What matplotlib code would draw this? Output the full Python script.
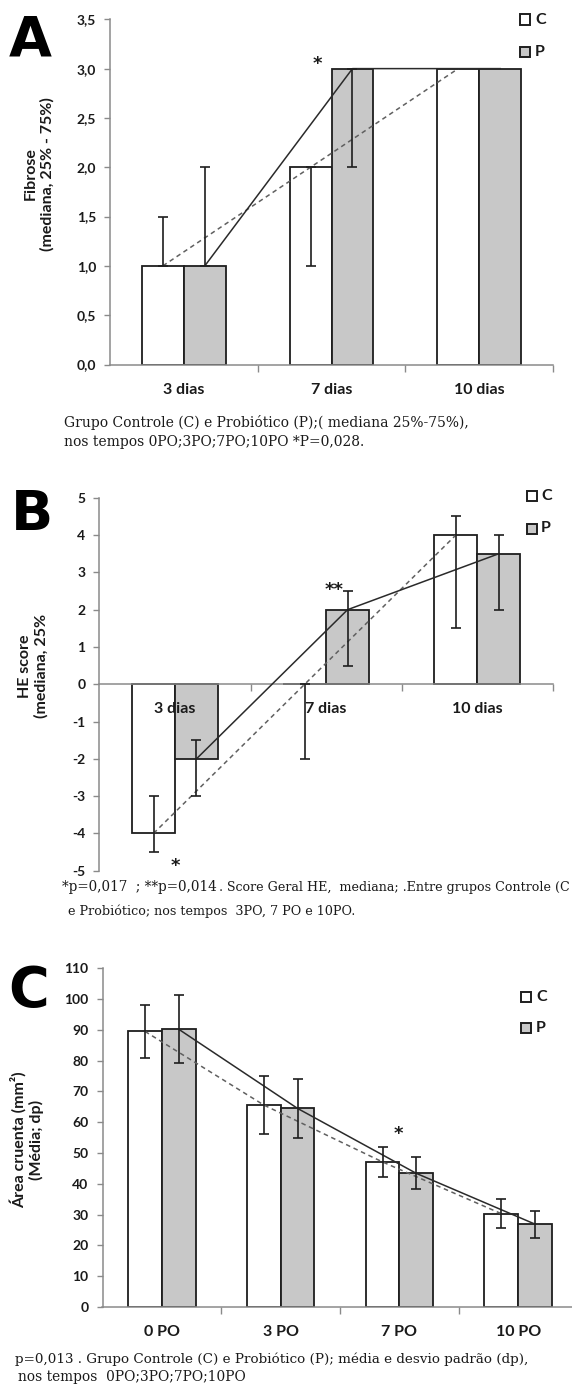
import matplotlib
matplotlib.use("Agg")
import matplotlib.pyplot as plt
from matplotlib.patches import Rectangle
import numpy as np

plt.rcParams['font.family'] = ['Lato', 'DejaVu Sans']

# ---------------- data ----------------
# Panel A: Fibrose (mediana, 25% - 75%)
a_categories = ["3 dias", "7 dias", "10 dias"]
a_c_median = [1.0, 2.0, 3.0]
a_p_median = [1.0, 3.0, 3.0]
a_c_q25 = [1.0, 1.0, 3.0]
a_c_q75 = [1.5, 2.0, 3.0]
a_p_q25 = [1.0, 2.0, 3.0]
a_p_q75 = [2.0, 3.0, 3.0]
a_yticks = [0.0, 0.5, 1.0, 1.5, 2.0, 2.5, 3.0, 3.5]
a_yticklabels = ["0,0", "0,5", "1,0", "1,5", "2,0", "2,5", "3,0", "3,5"]

# Panel B: HE score
b_categories = ["3 dias", "7 dias", "10 dias"]
b_c_median = [-4.0, 0.0, 4.0]
b_p_median = [-2.0, 2.0, 3.5]
b_c_q25 = [-4.5, -2.0, 1.5]
b_c_q75 = [-3.0, 0.0, 4.5]
b_p_q25 = [-3.0, 0.5, 2.0]
b_p_q75 = [-1.5, 2.5, 4.0]
b_yticks = [-5, -4, -3, -2, -1, 0, 1, 2, 3, 4, 5]

# Panel C: Area cruenta (media; dp)
c_categories = ["0 PO", "3 PO", "7 PO", "10 PO"]
c_c_mean = [89.5, 65.6, 47.1, 30.3]
c_p_mean = [90.2, 64.5, 43.4, 26.9]
c_c_sd = [8.6, 9.5, 4.9, 4.8]
c_p_sd = [11.0, 9.5, 5.2, 4.4]
c_yticks = [0, 10, 20, 30, 40, 50, 60, 70, 80, 90, 100, 110]

# ---------------- style ----------------
W, H = 572, 1386
GRAY = "#c8c8c8"
EDGE = "#1e1e1e"
SPINE = "#8a8a8a"
TXT = "#1a1a1a"
BW = 0.284
SERIF = ["DejaVu Serif"]
STAR = dict(fontsize=13, fontweight="bold", family="DejaVu Sans", ha="center",
            va="baseline", color=TXT)

fig = plt.figure(figsize=(W / 100, H / 100), dpi=100)


def px_axes(left, right, top, bottom):
    return fig.add_axes([left / W, 1 - bottom / H, (right - left) / W, (bottom - top) / H])


def draw_panel(ax, cats, cv, pv, c_lo, c_hi, p_lo, p_hi, ylim, yticks, yticklabels, zero_axis=False):
    for s in ("top", "right"):
        ax.spines[s].set_visible(False)
    if zero_axis:
        ax.spines["bottom"].set_position(("data", 0))
    for s in ("left", "bottom"):
        ax.spines[s].set_color(SPINE)
        ax.spines[s].set_linewidth(1.1)
    ax.set_axisbelow(False)
    n = len(cats)
    x = np.arange(n)
    ax.bar(x - BW / 2, cv, BW, color="white", edgecolor=EDGE, linewidth=1.3, zorder=2)
    ax.bar(x + BW / 2, pv, BW, color=GRAY, edgecolor=EDGE, linewidth=1.3, zorder=2)
    ax.plot(x - BW / 2, cv, color="#606060", lw=1.1, ls=(0, (3.0, 2.4)), zorder=3)
    ax.plot(x + BW / 2, pv, color="#2a2a2a", lw=1.1, zorder=3)
    for xs, v, lo, hi in ((x - BW / 2, cv, c_lo, c_hi), (x + BW / 2, pv, p_lo, p_hi)):
        for xi, vi, l, h in zip(xs, v, lo, hi):
            if h - l <= 0:
                continue
            ax.errorbar([xi], [vi], yerr=[[vi - l], [h - vi]], fmt="none",
                        ecolor=EDGE, elinewidth=1.2, capsize=3.6, capthick=1.2, zorder=4)
    ax.set_xlim(-0.5, n - 0.5)
    ax.set_ylim(*ylim)
    ax.set_yticks(yticks)
    ax.set_yticklabels(yticklabels)
    ax.set_xticks(x)
    ax.set_xticklabels(cats)
    ax.set_xticks(np.arange(n) + 0.5, minor=True)
    ax.tick_params(axis="x", which="major", length=0, pad=13, labelsize=11.5, labelcolor=TXT)
    ax.tick_params(axis="x", which="minor", length=5, width=1, color=SPINE, direction="out")
    ax.tick_params(axis="y", length=4, width=1, color=SPINE, pad=6, labelsize=10, labelcolor=TXT)
    for lab in ax.get_xticklabels() + ax.get_yticklabels():
        lab.set_fontweight("bold")
    ax.patch.set_alpha(0)


def legend(xbox, yc, yp, xtxt):
    for yy, col, lab in ((yc, "white", "C"), (yp, GRAY, "P")):
        fig.add_artist(Rectangle(((xbox - 5) / W, 1 - (yy + 5) / H), 10 / W, 10 / H,
                                 transform=fig.transFigure, facecolor=col,
                                 edgecolor=EDGE, linewidth=1.4))
        fig.text(xtxt / W, 1 - yy / H, lab, fontsize=11.5, fontweight="bold",
                 ha="left", va="center", color=TXT)


def ftext(x, y, s, **kw):
    return fig.text(x / W, 1 - y / H, s, **kw)


# ---------------- Panel A ----------------
axA = px_axes(110, 553, 19.3, 364.5)
draw_panel(axA, a_categories, a_c_median, a_p_median, a_c_q25, a_c_q75, a_p_q25, a_p_q75,
           (0, 3.5), a_yticks, a_yticklabels)
axA.text(0.902, 3.0, "*", **STAR)
ftext(30, 55, "A", fontsize=40, fontweight="bold", family="DejaVu Sans", ha="center", va="baseline")
ftext(39, 174, "Fibrose\n(mediana, 25% - 75%)", fontsize=11.5, fontweight="bold", rotation=90,
      ha="center", va="center", multialignment="center", linespacing=1.2, color=TXT)
legend(525.3, 19.5, 51.7, 535)
ftext(64, 426.5, "Grupo Controle (C) e Probiótico (P);( mediana 25%-75%),", fontsize=10.0,
      family=SERIF, ha="left", va="baseline", color=TXT)
ftext(64, 446, "nos tempos 0PO;3PO;7PO;10PO *P=0,028.", fontsize=10.0,
      family=SERIF, ha="left", va="baseline", color=TXT)

# ---------------- Panel B ----------------
axB = px_axes(99.4, 552.9, 497.8, 870.7)
draw_panel(axB, b_categories, b_c_median, b_p_median, b_c_q25, b_c_q75, b_p_q25, b_p_q75,
           (-5, 5), b_yticks, [str(t) for t in b_yticks], zero_axis=True)
axB.text(1.052, 2.38, "**", **STAR)
axB.text(0.005, -5.02, "*", **STAR)
ftext(32, 530, "B", fontsize=40, fontweight="bold", family="DejaVu Sans", ha="center", va="baseline")
ftext(33, 666, "HE score\n(mediana, 25%", fontsize=11.5, fontweight="bold", rotation=90,
      ha="center", va="center", multialignment="center", linespacing=1.15, color=TXT)
legend(531.7, 496, 528.5, 541)

fig.canvas.draw()
rend = fig.canvas.get_renderer()
b1 = ftext(62, 891.5, "*p=0,017  ; **p=0,014", fontsize=10.5, family=SERIF,
           ha="left", va="baseline", color=TXT)
w1 = b1.get_window_extent(rend).width
b1.set_fontsize(10.5 * 155.0 / w1)
b2 = ftext(219, 891.5, ". Score Geral HE,  mediana; .Entre grupos Controle (C", fontsize=9.6,
           family=SERIF, ha="left", va="baseline", color=TXT)
w2 = b2.get_window_extent(rend).width
b2.set_fontsize(9.6 * (570.0 - 219.0) / w2)
ftext(68, 915, "e Probiótico; nos tempos  3PO, 7 PO e 10PO.", fontsize=9.2,
      family=SERIF, ha="left", va="baseline", color=TXT)

# ---------------- Panel C ----------------
axC = px_axes(102.5, 577.6, 968.3, 1307)
draw_panel(axC, c_categories, c_c_mean, c_p_mean,
           [m - s for m, s in zip(c_c_mean, c_c_sd)], [m + s for m, s in zip(c_c_mean, c_c_sd)],
           [m - s for m, s in zip(c_p_mean, c_p_sd)], [m + s for m, s in zip(c_p_mean, c_p_sd)],
           (0, 110), c_yticks, [str(t) for t in c_yticks])
axC.text(1.995, 54.4, "*", **STAR)
ftext(28.5, 1006, "C", fontsize=40, fontweight="bold", family="DejaVu Sans", ha="center", va="baseline")
ftext(27, 1140, "Área cruenta (mm²)\n(Média; dp)", fontsize=11.5, fontweight="bold", rotation=90,
      ha="center", va="center", multialignment="center", linespacing=1.15, color=TXT)
legend(525.5, 996.7, 1028.3, 536)
ftext(15, 1363, "p=0,013 . Grupo Controle (C) e Probiótico (P); média e desvio padrão (dp),",
      fontsize=9.7, family=SERIF, ha="left", va="baseline", color=TXT)
ftext(18, 1381.5, "nos tempos  0PO;3PO;7PO;10PO", fontsize=9.9, family=SERIF,
      ha="left", va="baseline", color=TXT)

fig.savefig("out.png", dpi=100, facecolor="white")
